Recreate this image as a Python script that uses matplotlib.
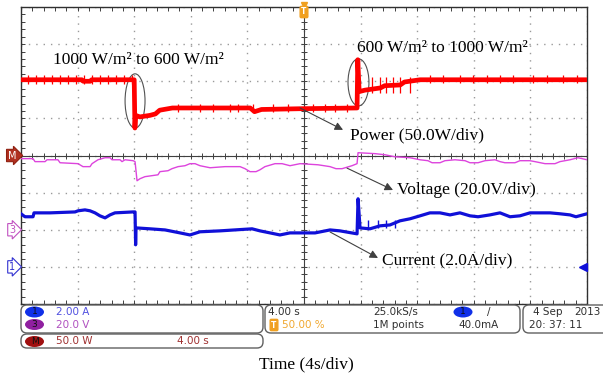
import numpy as np
import matplotlib.pyplot as plt
from matplotlib.patches import Ellipse, FancyBboxPatch

# scope settings: 4 s/div, trigger at centre
# power M: 50 W/div, ref at centre; ch3 voltage 20 V/div, ref -2 div; ch1 current 2 A/div, ref -3 div

power_t = [-20, -15.7, -15.6, -15.1, -15.0, -12.0, -11.95, -11.9, -11.6, -10.9, -10.5, -10.2,
           -9.3, -3.8, -3.5, -3.0, -0.3, 3.75, 3.8, 3.9, 4.3, 5.4, 5.7, 6.8, 7.1, 8.2, 20]
power_w = [102, 102, 100, 100, 102, 102, 37, 54, 52, 54, 56, 61,
           64, 64, 59, 62, 63, 64, 129, 86, 88, 91, 94, 95, 99, 102, 102]

# little switching spikes on the power trace (time, low, high)
spk1_t = [-19.5, -18.94, -18.37, -17.81, -17.24, -16.68, -16.11, -15.55, -14.98, -14.42,
          -13.85, -13.28, -12.72, -12.16]
spk1_lo, spk1_hi = 96, 108
spk2_t = [-8.9, -7.35, -6.43, -5.23, -4.66, -3.6, -2.19, -1.13, 0.64, 1.48, 2.19, 3.04]
spk2_lo, spk2_hi = 58, 69
spk3_t = [4.81, 5.37, 5.79, 6.29, 6.78, 7.49]
spk3_lo, spk3_hi = 84, 106
spk4_t = [8.9, 9.82, 11.02, 11.94, 12.93, 13.85, 14.77, 16.18, 17.17, 18.3, 19.29]
spk4_lo, spk4_hi = 97, 108

volt_t = [-20.0, -19.15, -19.01, -18.3, -18.16, -17.39, -17.24, -15.97, -15.62, -15.12, -14.98,
          -14.56, -14.06, -13.71, -13.57, -13.0, -12.86, -12.65, -12.08, -11.94, -11.8, -11.59,
          -11.24, -10.32, -10.18, -9.61, -9.33, -8.9, -8.41, -8.06, -7.7, -7.35, -6.64, -5.58,
          -4.52, -4.17, -3.82, -3.39, -3.11, -2.76, -2.05, -1.55, -0.99, -0.28, 0.99, 1.84,
          2.26, 2.69, 3.39, 3.75, 3.82, 5.02, 5.72, 6.43, 7.49, 8.2, 8.76, 9.05, 9.61, 9.96,
          10.67, 11.38, 11.73, 12.3, 12.79, 13.5, 13.85, 14.2, 14.91, 15.26, 15.97, 16.32,
          17.03, 17.74, 18.09, 18.8, 19.36, 20.0]
volt_v = [38.3, 38.3, 36.7, 36.7, 37.7, 37.7, 36.1, 35.6, 34.0, 34.0, 35.6,
          37.7, 38.8, 38.8, 37.7, 37.7, 36.7, 37.7, 37.2, 36.7, 26.4, 27.5,
          28.6, 29.6, 31.3, 31.8, 32.9, 34.0, 34.5, 35.6, 35.6, 34.5, 33.4, 34.0,
          34.0, 32.9, 31.3, 31.3, 32.3, 34.0, 35.6, 35.6, 34.5, 35.6, 35.0, 34.0,
          32.9, 32.9, 34.5, 35.6, 41.5, 41.0, 40.4, 39.3, 38.8, 37.7, 37.2, 36.1, 36.1, 37.2,
          37.7, 37.2, 36.1, 36.1, 37.2, 37.7, 36.7, 36.1, 36.1, 37.2, 37.2, 36.7,
          35.6, 35.6, 36.7, 37.7, 38.8, 37.7]

curr_t = [-20, -19.72, -19.15, -19.08, -17.95, -16.18, -15.97, -15.48, -15.12, -14.77, -14.42,
          -14.06, -13.71, -13.36, -12.08, -11.94, -11.9, -11.87, -10.88, -9.82, -8.76, -8.06,
          -7.35, -5.94, -3.67, -3.11, -2.4, -1.7, -0.99, 0.78, 1.84, 2.54, 3.75, 3.82, 3.96,
          4.66, 5.37, 6.08, 6.78, 7.49, 8.2, 8.9, 9.61, 10.32, 11.02, 11.73, 12.3, 13.14,
          13.85, 14.56, 15.26, 15.97, 17.39, 18.09, 18.8, 19.22, 20]
curr_a = [2.86, 2.70, 2.70, 2.91, 2.91, 2.96, 3.02, 3.07, 3.02, 2.91, 2.75,
          2.64, 2.80, 2.91, 2.96, 2.96, 1.19, 2.10, 2.05, 1.99, 1.83, 1.72,
          1.89, 1.94, 2.05, 1.94, 1.83, 1.72, 1.83, 1.83, 1.99, 1.94, 1.78, 3.67, 2.10,
          2.05, 2.21, 2.26, 2.48, 2.59, 2.75, 2.91, 2.91, 2.80, 2.91, 2.75, 2.70, 2.80,
          2.91, 2.70, 2.75, 2.91, 2.91, 2.86, 2.80, 2.70, 2.86]
cspk_t = [4.5, 5.2, 5.8, 6.4]
cspk_lo, cspk_hi = 2.1, 2.55

fig = plt.figure(figsize=(6.03, 3.78), dpi=100)
ax = fig.add_axes([21 / 603, 74 / 378, 566 / 603, 297 / 378])
ax.set_xlim(-20, 20)
ax.set_ylim(-4, 4)
ax.set_xticks(np.arange(-20, 21, 4))
ax.set_yticks(np.arange(-4, 5, 1))
ax.set_xticks(np.arange(-20, 20.01, 0.8), minor=True)
ax.set_yticks(np.arange(-4, 4.01, 0.2), minor=True)
ax.tick_params(which='both', direction='in', top=True, right=True, length=3,
               width=0.7, color='#404040', labelbottom=False, labelleft=False)
ax.grid(True, which='major', color='#9a9a9a', lw=1, ls=(0, (1, 4.3)))
for s in ax.spines.values():
    s.set_color('#303030')
    s.set_linewidth(1.0)
ax.axhline(0, color='#404040', lw=0.8)
ax.axvline(0, color='#404040', lw=0.8)
mx = np.arange(-20, 20.01, 0.8)
my = np.arange(-4, 4.01, 0.2)
ax.plot(mx, np.zeros_like(mx), ls='none', marker='|', ms=4, mew=0.7, color='#404040')
ax.plot(np.zeros_like(my), my, ls='none', marker='_', ms=4, mew=0.7, color='#404040')

# one twin axis per channel, limits follow volts/div and ref position
axv = ax.twinx()
axv.set_ylim(-40, 120)
axv.set_axis_off()
axv.plot(volt_t, volt_v, color='#dd44dd', lw=1.0)

axi = ax.twinx()
axi.set_ylim(-2, 14)
axi.set_axis_off()
axi.plot(curr_t, curr_a, color='#1010d8', lw=2.3)
axi.vlines(cspk_t, cspk_lo, cspk_hi, color='#1010d8', lw=1)

axp = ax.twinx()
axp.set_ylim(-200, 200)
axp.set_axis_off()
axp.plot(power_t, power_w, color='#ff0000', lw=3.4)
for st, lo, hi in [(spk1_t, spk1_lo, spk1_hi), (spk2_t, spk2_lo, spk2_hi),
                   (spk3_t, spk3_lo, spk3_hi), (spk4_t, spk4_lo, spk4_hi)]:
    axp.vlines(st, lo, hi, color='#ff0000', lw=0.9)

# annotations (base axis coords: s, div)
serif = 'Liberation Serif'
axp.add_patch(Ellipse((-11.94, 1.47), 1.41, 1.46, transform=ax.transData,
                      fill=False, ec='#505050', lw=0.8))
axp.add_patch(Ellipse((3.85, 1.97), 1.48, 1.27, transform=ax.transData,
                      fill=False, ec='#505050', lw=0.8))
axp.text(-17.74, 2.57, '1000 W/m² to 600 W/m²', transform=ax.transData,
         family=serif, fontsize=12.5, va='center')
axp.text(3.75, 2.9, '600 W/m² to 1000 W/m²', transform=ax.transData,
         family=serif, fontsize=12.5, va='center')
arrow = dict(arrowstyle='-|>', color='#404040', lw=0.8, mutation_scale=12, shrinkA=0, shrinkB=0)
for txt, xy, xyt, tx in [('Power (50.0W/div)', (-0.28, 1.28), (2.76, 0.69), (3.25, 0.55)),
                         ('Voltage (20.0V/div)', (3.04, -0.34), (6.29, -0.93), (6.57, -0.93)),
                         ('Current (2.0A/div)', (1.84, -2.06), (5.23, -2.76), (5.51, -2.83))]:
    axp.annotate('', xy=xyt, xytext=xy, xycoords=ax.transData, textcoords=ax.transData,
                 arrowprops=arrow)
    axp.text(tx[0], tx[1], txt, transform=ax.transData, family=serif, fontsize=12.5,
             va='center')

# channel reference markers on the left
for lab, yy, fc, ec, tc in [('M', 0, '#b03020', '#902010', 'white'),
                            ('3', -2, 'white', '#c050c0', '#c050c0'),
                            ('1', -3, 'white', '#3030d0', '#3030d0')]:
    axp.annotate(lab, xy=(-0.016, yy), xycoords=('axes fraction', ax.transData),
                 ha='center', va='center', fontsize=7, color=tc, annotation_clip=False,
                 bbox=dict(boxstyle='rarrow,pad=0.12', fc=fc, ec=ec, lw=0.8))
axi.plot([19.75], [0], marker='<', ms=6, color='#1010d8', clip_on=False)

# overlay in pixel coordinates for the scope status panel
ov = fig.add_axes([0, 0, 1, 1])
ov.set_xlim(0, 603)
ov.set_ylim(378, 0)
ov.set_axis_off()
ov.plot([304], [5], marker='v', ms=5, color='#f0a020')
ov.text(304, 12, 'T', ha='center', va='center', fontsize=5.5, color='white', weight='bold',
        bbox=dict(boxstyle='round,pad=0.15', fc='#f0a020', ec='#f0a020'))

for x0, y0, w, h in [(21, 305, 242, 28), (21, 334, 242, 14), (265, 305, 255, 28),
                     (523, 305, 95, 28)]:
    ov.add_patch(FancyBboxPatch((x0, y0), w, h, boxstyle='round,pad=0,rounding_size=6',
                                fc='white', ec='#606060', lw=1, clip_on=True))

sans = 'DejaVu Sans'
fs = 7.5
for cx, cy, fc, lab in [(34.5, 312, '#1030e8', '1'), (34.5, 324.5, '#9020a0', '3'),
                        (34.5, 341.5, '#a01010', 'M'), (463, 312, '#1030e8', '1')]:
    ov.add_patch(Ellipse((cx, cy), 19, 11, fc=fc, ec='none'))
    ov.text(cx, cy, lab, ha='center', va='center', fontsize=6.5, color='#101010', family=sans)

ov.text(56, 312, '2.00 A', fontsize=fs, color='#5050e0', va='center', family=sans)
ov.text(56, 324.5, '20.0 V', fontsize=fs, color='#b050c0', va='center', family=sans)
ov.text(56, 341.5, '50.0 W', fontsize=fs, color='#a03030', va='center', family=sans)
ov.text(177, 341.5, '4.00 s', fontsize=fs, color='#a03030', va='center', family=sans)
ov.text(268, 312, '4.00 s', fontsize=fs, color='#303030', va='center', family=sans)
ov.text(274, 325, 'T', fontsize=5.5, color='white', ha='center', va='center', weight='bold',
        bbox=dict(boxstyle='round,pad=0.15', fc='#f0a020', ec='#f0a020'))
ov.text(282, 324.5, '50.00 %', fontsize=fs, color='#f0a830', va='center', family=sans)
ov.text(373, 312, '25.0kS/s', fontsize=fs, color='#303030', va='center', family=sans)
ov.text(373, 324.5, '1M points', fontsize=fs, color='#303030', va='center', family=sans)
ov.text(487, 312, '/', fontsize=fs, color='#303030', va='center', family=sans)
ov.text(458, 324.5, '40.0mA', fontsize=fs, color='#303030', va='center', family=sans)
ov.text(533, 312, '4 Sep', fontsize=fs, color='#303030', va='center', family=sans)
ov.text(601, 312, '2013', fontsize=fs, color='#303030', va='center', ha='right', family=sans)
ov.text(529, 324.5, '20: 37: 11', fontsize=fs, color='#303030', va='center', family=sans)
ov.text(306, 364, 'Time (4s/div)', fontsize=12.5, family=serif, ha='center', va='center')

fig.savefig('out.png', dpi=100)
